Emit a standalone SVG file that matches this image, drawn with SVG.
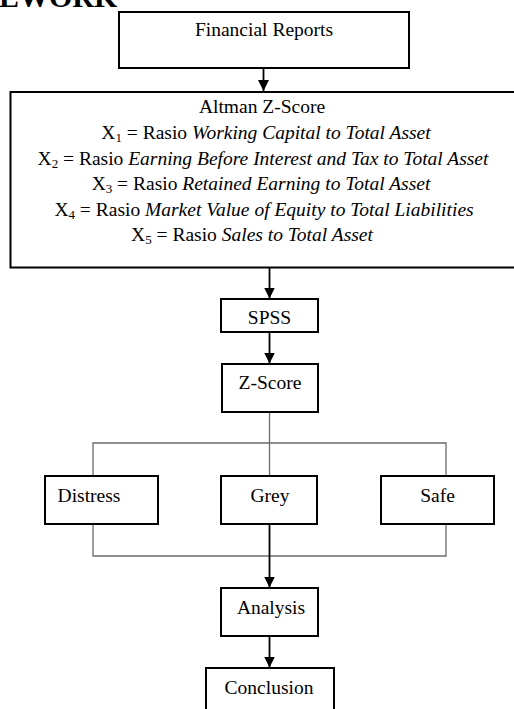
<svg xmlns="http://www.w3.org/2000/svg" width="514" height="709" viewBox="0 0 514 709">
<defs>
<style>
.box{fill:#fff;stroke:#000;stroke-width:2}
.t{font-family:'Liberation Serif','Times New Roman',serif;font-size:19.5px;fill:#000;text-anchor:middle}
.i{font-style:italic}
.sub{font-size:13px}
.arr{stroke:#000;stroke-width:1.8;fill:none}
.thin{stroke:#6b6b6b;stroke-width:1.3;fill:none}
</style>
<marker id="ah" markerUnits="userSpaceOnUse" markerWidth="11" markerHeight="11" viewBox="0 0 10 10" refX="10" refY="5" orient="auto">
<path d="M0,0 L10,5 L0,10 z" fill="#000"/>
</marker>
</defs>
<rect width="514" height="709" fill="#fff"/>
<text x="-1" y="7" font-family="'Liberation Serif', serif" font-weight="bold" font-size="30">EWORK</text>

<g id="connectors">
<line class="arr" x1="263.5" y1="68" x2="263.5" y2="91" marker-end="url(#ah)"/>
<line class="arr" x1="269.5" y1="268" x2="269.5" y2="298.5" marker-end="url(#ah)"/>
<line class="arr" x1="269.5" y1="332" x2="269.5" y2="363.5" marker-end="url(#ah)"/>
<path class="thin" d="M269.5,412 V476 M93,476 V443 H446 V476"/>
<path class="thin" d="M93,524 V556 H446 V524"/>
<line class="arr" x1="269.5" y1="524" x2="269.5" y2="587.5" marker-end="url(#ah)"/>
<line class="arr" x1="269.5" y1="636" x2="269.5" y2="667.5" marker-end="url(#ah)"/>
</g>

<g id="financial-reports">
<rect class="box" x="119" y="12" width="290" height="56"/>
<text class="t" x="264" y="36">Financial Reports</text>
</g>

<g id="altman">
<rect class="box" x="10.5" y="92" width="510" height="175.5"/>
<text class="t" x="262" y="113">Altman Z-Score</text>
<text class="t" x="266" y="139">X<tspan class="sub" dy="3">1</tspan><tspan dy="-3"> = Rasio </tspan><tspan class="i">Working Capital to Total Asset</tspan></text>
<text class="t" x="263" y="165">X<tspan class="sub" dy="3">2</tspan><tspan dy="-3"> = Rasio </tspan><tspan class="i">Earning Before Interest and Tax to Total Asset</tspan></text>
<text class="t" x="261" y="190">X<tspan class="sub" dy="3">3</tspan><tspan dy="-3"> = Rasio </tspan><tspan class="i">Retained Earning to Total Asset</tspan></text>
<text class="t" x="264" y="216">X<tspan class="sub" dy="3">4</tspan><tspan dy="-3"> = Rasio </tspan><tspan class="i">Market Value of Equity to Total Liabilities</tspan></text>
<text class="t" x="252" y="241">X<tspan class="sub" dy="3">5</tspan><tspan dy="-3"> = Rasio </tspan><tspan class="i">Sales to Total Asset</tspan></text>
</g>

<g id="spss">
<rect class="box" x="221" y="299" width="97" height="33"/>
<text class="t" x="269.5" y="324">SPSS</text>
</g>

<g id="zscore">
<rect class="box" x="222" y="364" width="96" height="48"/>
<text class="t" x="270" y="389">Z-Score</text>
</g>

<g id="distress">
<rect class="box" x="45" y="476" width="113" height="48"/>
<text class="t" x="89" y="502">Distress</text>
</g>

<g id="grey">
<rect class="box" x="221" y="476" width="96" height="48"/>
<text class="t" x="270" y="502">Grey</text>
</g>

<g id="safe">
<rect class="box" x="381" y="476" width="113" height="48"/>
<text class="t" x="437.5" y="502">Safe</text>
</g>

<g id="analysis">
<rect class="box" x="221" y="588" width="97" height="48"/>
<text class="t" x="271" y="614">Analysis</text>
</g>

<g id="conclusion">
<rect class="box" x="206" y="668" width="128" height="60"/>
<text class="t" x="269" y="694">Conclusion</text>
</g>
</svg>
